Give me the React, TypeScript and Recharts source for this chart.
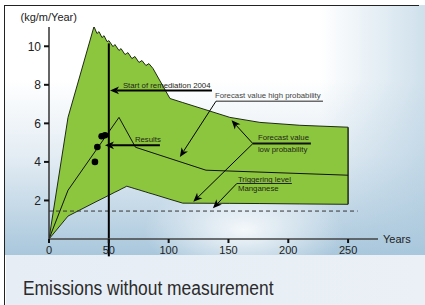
import { ComposedChart, Area, Line, Scatter, XAxis, YAxis, ReferenceLine, ReferenceDot } from "recharts";

// forecast band (green area)
const bandYears = [0, 15.9, 37.6, 40.1, 41.8, 44.3, 46.0, 48.5, 50.1, 53.5, 55.1, 58.5, 60.2, 63.5, 65.0, 66.0, 69.3, 71.8, 75.2, 77.7, 81.0, 83.5, 86.9, 101.1, 111.8, 151.2, 176.3, 209.7, 250];
const bandHigh = [0, 6.31, 11.02, 10.66, 10.76, 10.45, 10.55, 10.24, 10.29, 9.98, 10.09, 9.78, 9.88, 9.57, 9.63, 9.67, 9.36, 9.47, 9.16, 9.26, 9.0, 9.1, 8.85, 7.29, 7.08, 6.31, 6.05, 5.9, 5.8];
const bandLow = [0, 1.19, 1.88, 1.96, 2.01, 2.09, 2.14, 2.22, 2.27, 2.38, 2.43, 2.53, 2.59, 2.69, 2.74, 2.72, 2.66, 2.61, 2.55, 2.5, 2.44, 2.39, 2.33, 2.06, 1.86, 1.85, 1.84, 1.82, 1.8];

// forecast line inside the band
const midYears = [0, 15.9, 58.5, 72.3, 131.2, 250];
const midValues = [0, 2.53, 6.31, 4.76, 3.57, 3.31];

// measured results
const dotYears = [38.4, 40.4, 44.0, 46.8];
const dotValues = [4.0, 4.77, 5.33, 5.38];

const xTicks = [0, 50, 100, 150, 200, 250];
const yTicks = [2, 4, 6, 8, 10];
const triggerLevel = 1.45;
const triggerEnd = 258;
const remediationYear = 50;

const bandData = bandYears.map((x, i) => ({ x, band: [bandLow[i], bandHigh[i]] }));
const midData = midYears.map((x, i) => ({ x, mid: midValues[i] }));
const dotData = dotYears.map((x, i) => ({ x, y: dotValues[i] }));

const FONT = 'Arial, "Liberation Sans", sans-serif';

const arrows = [
  { from: [136.2, 7.71], to: [51.0, 7.71], w: 2 },
  { from: [92.7, 4.86], to: [46.8, 4.86], w: 2 },
  { from: [139.6, 7.15], to: [109.4, 4.26], w: 1 },
  { from: [170.4, 4.95], to: [152.6, 6.16], w: 1 },
  { from: [170.4, 4.95], to: [120.6, 1.93], w: 1 },
  { from: [157, 2.88], to: [137, 1.59], w: 1 },
];

const underlines = [
  { from: [139.6, 7.15], to: [229, 7.15], stroke: "#6a6a6a", w: 1.5 },
  { from: [170.4, 4.95], to: [218.9, 4.95], stroke: "#111", w: 2 },
  { from: [157, 2.88], to: [203, 2.88], stroke: "#222", w: 1 },
];

const notes = [
  { text: "Start of remediation 2004", x: 61.8, y: 7.97, color: "#1e2614" },
  { text: "Forecast value high probability", x: 138.7, y: 7.48, color: "#444" },
  { text: "Results", x: 71.8, y: 5.17, color: "#1e2614" },
  { text: "Forecast value", x: 174.6, y: 5.3, color: "#1e2614" },
  { text: "low probability", x: 174.6, y: 4.66, color: "#1e2614" },
  { text: "Triggering level", x: 157.9, y: 3.12, color: "#1e2614" },
  { text: "Manganese", x: 157.9, y: 2.64, color: "#1e2614" },
];

function ArrowShape(props: any) {
  const { x1, y1, x2, y2, stroke, strokeWidth } = props;
  if ([x1, y1, x2, y2].some((v) => typeof v !== "number")) return <g />;
  const a = Math.atan2(y2 - y1, x2 - x1);
  const len = 9;
  const half = 3.8;
  const c = Math.cos(a);
  const s = Math.sin(a);
  const bx = x2 - len * c;
  const by = y2 - len * s;
  const nx = x2 - (len - 2.5) * c;
  const ny = y2 - (len - 2.5) * s;
  const pts = [
    [x2, y2],
    [bx - s * half, by + c * half],
    [nx, ny],
    [bx + s * half, by - c * half],
  ]
    .map((p) => p.join(","))
    .join(" ");
  return (
    <g>
      <line x1={x1} y1={y1} x2={nx} y2={ny} stroke={stroke} strokeWidth={strokeWidth} />
      <polygon points={pts} fill={stroke} />
    </g>
  );
}

const noteShape = (text: string, color: string) => (p: any) => (
  <text x={p.cx} y={p.cy} dy="0.35em" fontSize={7.8} fill={color} fontFamily={FONT}>
    {text}
  </text>
);

export default function App() {
  return (
    <div style={{ position: "absolute", left: 0, top: 0, width: 425, height: 305, background: "#fff", overflow: "hidden", fontFamily: FONT }}>
      <div
        style={{
          position: "absolute",
          left: 4,
          top: 5,
          width: 421,
          height: 250,
          background:
            "radial-gradient(ellipse 100px 50px at 240px 225px, rgba(255,255,255,0.85), rgba(255,255,255,0) 100%), linear-gradient(90deg, rgba(168,199,220,0) 75%, rgba(168,199,220,0.55) 100%), linear-gradient(180deg, #ffffff 30%, #e4edf4 60%, #a9c7dc 100%)",
        }}
      />
      <div style={{ position: "absolute", left: 4, top: 5, width: 415, height: 0, borderTop: "1.5px solid #222" }} />
      <div style={{ position: "absolute", left: 4, top: 5, width: 0, height: 300, borderLeft: "1.5px solid #222" }} />
      <div
        style={{
          position: "absolute",
          left: 5.5,
          top: 255,
          width: 420,
          height: 50,
          background: "linear-gradient(90deg, #e6edf4, #eaf0f6)",
        }}
      />
      <div style={{ position: "absolute", left: 20.5, top: 10, fontSize: 11, color: "#222", lineHeight: "14px" }}>(kg/m/Year)</div>
      <div style={{ position: "absolute", left: 383, top: 232, fontSize: 11, color: "#222", lineHeight: "14px" }}>Years</div>
      <div
        style={{
          position: "absolute",
          left: 22.5,
          top: 276,
          fontSize: 20,
          color: "#2b2b2b",
          lineHeight: "24px",
          whiteSpace: "nowrap",
          transform: "scaleX(0.87)",
          transformOrigin: "left center",
        }}
      >
        Emissions without measurement
      </div>
      <div style={{ position: "absolute", left: 0, top: 0 }}>
        <ComposedChart width={425} height={305} margin={{ top: 27, right: 47, bottom: 46, left: 9 }}>
          <XAxis
            dataKey="x"
            type="number"
            domain={[0, 275]}
            ticks={xTicks}
            allowDataOverflow
            height={20}
            tickSize={4}
            tickMargin={3}
            tick={{ fontSize: 11, fill: "#222", fontFamily: FONT }}
            tickLine={{ stroke: "#111", strokeWidth: 2 }}
            axisLine={{ stroke: "#444", strokeWidth: 1.5 }}
          />
          <YAxis
            type="number"
            domain={[0, 11]}
            ticks={yTicks}
            allowDataOverflow
            width={40}
            tickSize={5}
            tickMargin={3}
            tick={{ fontSize: 12, fill: "#222", fontFamily: FONT }}
            tickLine={{ stroke: "#111", strokeWidth: 2 }}
            axisLine={{ stroke: "#333", strokeWidth: 1.5 }}
          />
          <Area
            data={bandData}
            dataKey="band"
            type="linear"
            fill="#8cc63f"
            fillOpacity={1}
            stroke="#1f2a14"
            strokeWidth={1}
            dot={false}
            activeDot={false}
            isAnimationActive={false}
          />
          <ReferenceLine
            segment={[{ x: 250, y: bandLow[bandLow.length - 1] }, { x: 250, y: bandHigh[bandHigh.length - 1] }]}
            stroke="#1f2a14"
            strokeWidth={1.5}
          />
          <Line
            data={midData}
            dataKey="mid"
            type="linear"
            stroke="#111"
            strokeWidth={1}
            dot={false}
            activeDot={false}
            isAnimationActive={false}
          />
          <ReferenceLine
            segment={[{ x: 0, y: triggerLevel }, { x: triggerEnd, y: triggerLevel }]}
            stroke="#333"
            strokeWidth={1}
            strokeDasharray="4 3"
          />
          <Scatter data={dotData} dataKey="y" fill="#000" shape={(p: any) => <circle cx={p.cx} cy={p.cy} r={3.3} fill="#000" />} isAnimationActive={false} />
          {underlines.map((u, i) => (
            <ReferenceLine
              key={"u" + i}
              segment={[{ x: u.from[0], y: u.from[1] }, { x: u.to[0], y: u.to[1] }]}
              stroke={u.stroke}
              strokeWidth={u.w}
            />
          ))}
          {arrows.map((a, i) => (
            <ReferenceLine
              key={"a" + i}
              segment={[{ x: a.from[0], y: a.from[1] }, { x: a.to[0], y: a.to[1] }]}
              stroke="#000"
              strokeWidth={a.w}
              shape={ArrowShape}
            />
          ))}
          <ReferenceLine
            segment={[{ x: remediationYear, y: 10.15 }, { x: remediationYear, y: -0.9 }]}
            stroke="#000"
            strokeWidth={2}
            ifOverflow="visible"
          />
          {notes.map((n, i) => (
            <ReferenceDot key={"n" + i} x={n.x} y={n.y} r={0} shape={noteShape(n.text, n.color)} />
          ))}
        </ComposedChart>
      </div>
    </div>
  );
}
